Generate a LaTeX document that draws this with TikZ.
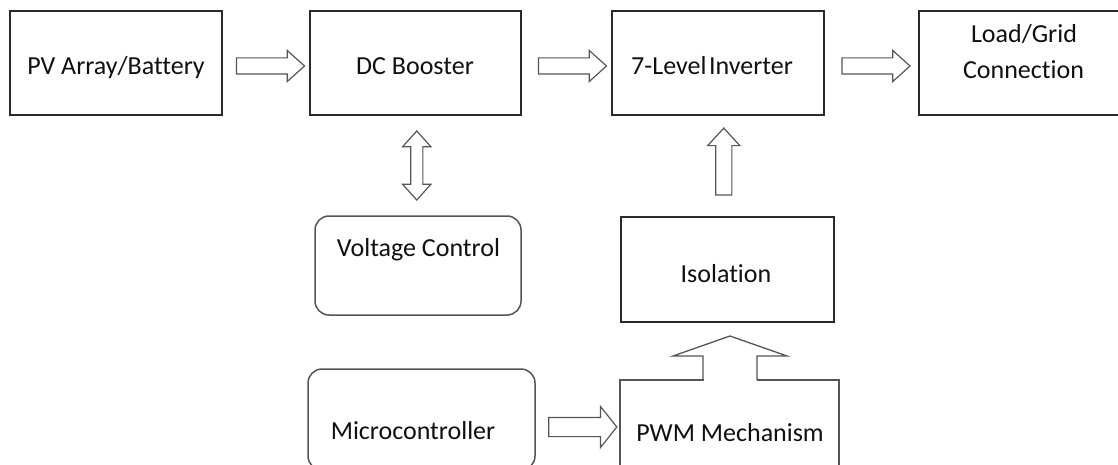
\documentclass[tikz,border=0pt]{standalone}
\usepackage{fontspec}
\setmainfont{Carlito}[Ligatures=NoCommon]
\usetikzlibrary{shapes.arrows,calc}
\definecolor{boxcol}{HTML}{2A2A2A}
\definecolor{rboxcol}{HTML}{555555}
\definecolor{arrcol}{HTML}{555555}
\definecolor{txtcol}{HTML}{101010}
\begin{document}
\begin{tikzpicture}[x=1pt,y=-1pt,
  box/.style={draw=boxcol, line width=1.5pt, inner sep=0pt, outer sep=0pt},
  rbox/.style={box, draw=rboxcol, rounded corners=14pt},
  lbl/.style={font=\fontsize{26}{36}\selectfont, text=txtcol, inner sep=0pt, anchor=base},
  blk/.style={draw=arrcol, fill=white, line width=1.2pt, inner xsep=0pt, outer sep=0pt},
  harrow/.style={blk, single arrow, minimum height=68pt, minimum width=30pt, inner ysep=7.5pt,
    single arrow head extend=7.5pt, single arrow tip angle=84},
  uarrow/.style={blk, single arrow, rotate=90, minimum height=67pt, minimum width=31pt, inner ysep=7.5pt,
    single arrow head extend=8pt, single arrow tip angle=85},
  darrow/.style={blk, double arrow, rotate=90, minimum height=69pt, minimum width=27pt, inner ysep=5.5pt,
    double arrow head extend=8pt, double arrow tip angle=84},
  marrow/.style={blk, single arrow, minimum height=68pt, minimum width=40pt, inner ysep=9pt,
    single arrow head extend=11pt, single arrow tip angle=103}]
\useasboundingbox (0,0) rectangle (1118,465);
\clip (0,0) rectangle (1118,465);
\fill[white] (0,0) rectangle (1118,465);

% boxes
\node[box, minimum width=212pt, minimum height=104pt] (pv)   at (116,63) {};
\node[box, minimum width=211pt, minimum height=104pt] (dc)   at (415.5,63) {};
\node[box, minimum width=212pt, minimum height=104pt] (inv)  at (718,63) {};
\node[box, minimum width=211pt, minimum height=104pt] (load) at (1024.5,63) {};
\node[rbox, minimum width=206pt, minimum height=99pt] (vc)   at (418,265.5) {};
\node[box, minimum width=213pt, minimum height=105pt] (iso)  at (727.5,269.5) {};
\node[rbox, minimum width=227pt, minimum height=101pt] (mc)  at (421.5,419.5) {};
\node[box, draw=arrcol, line width=1.3pt, minimum width=219pt, minimum height=100pt] (pwm) at (729.5,430) {};

% labels
\node[lbl] (pvt)  at (116,75)  {PV Array/Battery};
\node[lbl] (dct)  at (415,75)  {DC Booster};
\node[lbl] (invt) at (712,75)  {7-Level\kern0.1em Inverter};
\node[lbl] (lt1)  at (1024,43) {Load/Grid};
\node[lbl] (lt2)  at (1023.5,79) {Connection};
\node[lbl] (vct)  at (418.5,256) {Voltage Control};
\node[lbl] (isot) at (726,282) {Isolation};
\node[lbl] (mct)  at (413,439) {Microcontroller};
\node[lbl] (pwmt) at (730,441) {PWM Mechanism};

% block arrows
\node[harrow] (a1) at ($(pv.east)!0.5!(dc.west)+(0,3)$) {};
\node[harrow] (a2) at ($(dc.east)!0.5!(inv.west)+(1.5,3)$) {};
\node[harrow] (a3) at ($(inv.east)!0.5!(load.west)+(0,3)$) {};
\node[darrow] (a4) at ($(dc.south)!0.5!(vc.north)$) {};
\node[uarrow] (a5) at ($(iso.north)!0.5!(inv.south)+(1,0)$) {};
\node[marrow] (a6) at ($(mc.east)!0.5!(pwm.west)+(1.5,2.25)$) {};

% wide arrow from PWM Mechanism up to Isolation, merged with the box top
\fill[white] ([shift={(-26,2)}]pwm.north) rectangle ([shift={(27,-2)}]pwm.north);
\draw[draw=arrcol, line width=1.3pt, line join=miter]
  ([shift={(-26.5,0)}]pwm.north) -- ++(0,-24) -- ++(-30,0)
  -- ($(iso.south)+(2.5,14)$)
  -- ([shift={(57.5,-24)}]pwm.north) -- ++(-30,0) -- ++(0,24);
\end{tikzpicture}
\end{document}
